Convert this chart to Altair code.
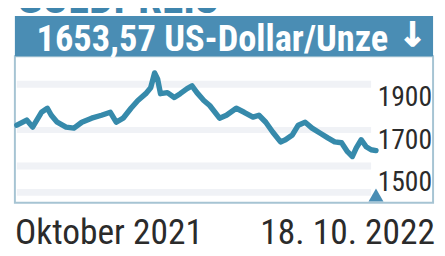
import altair as alt
import pandas as pd

# ---- data ----
dates = [
    "2021-10-18", "2021-10-28", "2021-11-03", "2021-11-12", "2021-11-18",
    "2021-11-22", "2021-11-28", "2021-12-07", "2021-12-15", "2021-12-23",
    "2022-01-02", "2022-01-12", "2022-01-21", "2022-01-27", "2022-02-03",
    "2022-02-11", "2022-02-18", "2022-02-26", "2022-03-03", "2022-03-07",
    "2022-03-10", "2022-03-13", "2022-03-20", "2022-03-27", "2022-04-02",
    "2022-04-09", "2022-04-14", "2022-04-19", "2022-04-26", "2022-05-02",
    "2022-05-12", "2022-05-19", "2022-05-29", "2022-06-06", "2022-06-15",
    "2022-06-21", "2022-06-28", "2022-07-05", "2022-07-13", "2022-07-18",
    "2022-07-25", "2022-07-31", "2022-08-07", "2022-08-14", "2022-08-22",
    "2022-08-30", "2022-09-06", "2022-09-13", "2022-09-19", "2022-09-24",
    "2022-09-28", "2022-10-03", "2022-10-08", "2022-10-13", "2022-10-18",
]
prices = [
    1774, 1798, 1765, 1835, 1854,
    1821, 1788, 1765, 1760, 1788,
    1807, 1821, 1835, 1788, 1807,
    1854, 1891, 1923, 1951, 2021,
    1993, 1923, 1928, 1905, 1923,
    1947, 1960, 1928, 1891, 1867,
    1807, 1821, 1854, 1835, 1812,
    1821, 1788, 1742, 1695, 1705,
    1728, 1774, 1788, 1760, 1737,
    1714, 1695, 1691, 1649, 1626,
    1667, 1705, 1672, 1658, 1654,
]
tick_values = [1500, 1700, 1900]
tick_labels = ["1500", "1700", "1900"]
band_lo = [1440, 1565, 1737, 1951]
band_hi = [1472, 1598, 1765, 1984]
title_text = "GOLDPREIS"
header_text = "1653,57 US-Dollar/Unze"
arrow_text = "↓"
start_label = "Oktober 2021"
end_label = "18. 10. 2022"

# ---- styling ----
W, H = 425, 149
FONT = "Liberation Sans Narrow, Roboto Condensed, DejaVu Sans Condensed, Roboto, sans-serif"
BLUE = "#4a8db4"
LINE = "#368aab"
TXT = "#2b2b2b"

df = pd.DataFrame({"date": dates, "price": prices})
last = df.tail(1)
ticks = pd.DataFrame({"v": tick_values, "label": tick_labels})
bands = pd.DataFrame({"lo": band_lo, "hi": band_hi})
one = pd.DataFrame({"k": [0]})

xscale = alt.Scale(domain=[alt.DateTime(year=2021, month=10, date=16, utc=True),
                           alt.DateTime(year=2022, month=12, date=15, utc=True)])
yscale = alt.Scale(domain=[1407, 2100], nice=False, zero=False)

band_layer = alt.Chart(bands).mark_rect(color="#f0f2f6").encode(
    x=alt.value(2), x2=alt.value(362),
    y=alt.Y("lo:Q", scale=yscale, axis=None), y2="hi:Q",
)

line_layer = alt.Chart(df).mark_line(color=LINE, strokeWidth=5.5, strokeJoin="round",
                                     strokeCap="round").encode(
    x=alt.X("date:T", scale=xscale, axis=None),
    y=alt.Y("price:Q", scale=yscale, axis=None),
)

tri_layer = alt.Chart(last).mark_point(shape="triangle-up", filled=True, size=230,
                                       color=BLUE, opacity=1).encode(
    x=alt.X("date:T", scale=xscale, axis=None),
    y=alt.value(H - 8),
)

ylab_layer = alt.Chart(ticks).mark_text(align="right", baseline="middle", font=FONT,
                                        fontSize=28, color=TXT).encode(
    x=alt.value(424),
    y=alt.Y("v:Q", scale=yscale, axis=None),
    text="label:N",
)

header_bar = alt.Chart(one).mark_rect(color=BLUE).encode(
    x=alt.value(0), x2=alt.value(W), y=alt.value(-41), y2=alt.value(0),
)

header_txt = alt.Chart(one).mark_text(align="left", baseline="alphabetic", font=FONT,
                                      fontSize=37, fontWeight="bold", color="white",
                                      text=header_text).encode(
    x=alt.value(22), y=alt.value(-5),
)

arrow_txt = alt.Chart(one).mark_text(align="center", baseline="alphabetic", font="DejaVu Sans",
                                     fontSize=34, fontWeight="bold", color="white",
                                     stroke="white", strokeWidth=1.2,
                                     text=arrow_text).encode(
    x=alt.value(404), y=alt.value(-10),
)

title_txt = alt.Chart(one).mark_text(align="left", baseline="alphabetic", font=FONT,
                                     fontSize=44, fontWeight="bold", color="#3f85ad",
                                     text=title_text).encode(
    x=alt.value(2), y=alt.value(-44),
)

start_txt = alt.Chart(one).mark_text(align="left", baseline="alphabetic", font=FONT,
                                     fontSize=36, color=TXT, text=start_label).encode(
    x=alt.value(0), y=alt.value(191),
)

end_txt = alt.Chart(one).mark_text(align="right", baseline="alphabetic", font=FONT,
                                   fontSize=36, color=TXT, text=end_label).encode(
    x=alt.value(W + 2), y=alt.value(191),
)

chart = alt.layer(
    band_layer, line_layer, tri_layer, ylab_layer,
    header_bar, header_txt, arrow_txt, title_txt, start_txt, end_txt,
).properties(
    width=W, height=H,
    autosize=alt.AutoSizeParams(type="none"),
    padding={"left": 7, "top": 47, "right": 4, "bottom": 50},
    background="white",
).configure_view(
    stroke="#a6c4d3", strokeWidth=2,
)

chart.save("out.html", embed_options={"renderer": "svg", "actions": False})
